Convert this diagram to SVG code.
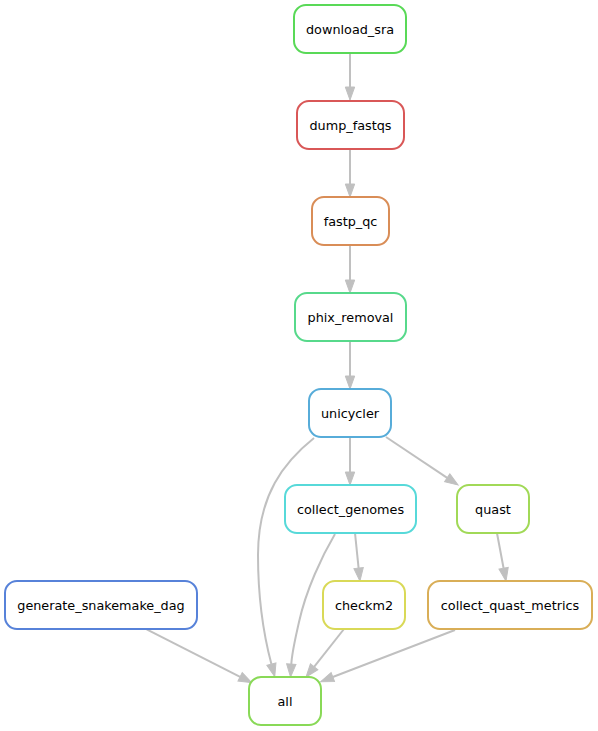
<svg xmlns="http://www.w3.org/2000/svg" width="598" height="731" viewBox="0 0 598 731">
<defs>
<style>
.n rect{fill:#fff;stroke-width:2}
.n text{font-family:"DejaVu Sans",sans-serif;font-size:12.8px;text-anchor:middle;fill:#000}
.e path{fill:none;stroke:#c0c0c0;stroke-width:2;marker-end:url(#ah)}
</style>
<marker id="ah" markerUnits="userSpaceOnUse" markerWidth="16" markerHeight="12" viewBox="0 -6 16 12" refX="0" refY="0" orient="auto" overflow="visible">
<path d="M0,-4.7 L13,0 L0,4.7 Z" fill="#c0c0c0" stroke="#c0c0c0" stroke-width="1"/>
</marker>
</defs>
<rect width="598" height="731" fill="#fff"/>
<g id="edges" class="e">
<path d="M350,53 L350,87"/>
<path d="M350,149 L350,184"/>
<path d="M350,245 L350,280"/>
<path d="M350,341 L350,376"/>
<path d="M350,437 L350,472"/>
<path d="M386,437 L447.2,477.8"/>
<path d="M497,533 L503.6,568.2"/>
<path d="M355,533 L358.6,568.1"/>
<path d="M344,629 L314.1,666.8"/>
<path d="M455,630 L332.8,677"/>
<path d="M146.7,629.3 L240.1,676.8"/>
<path d="M314,438 C284,462 258,495 258,555 C258,600 265,640 271.4,664.1"/>
<path d="M335,534 C322,556 306,590 299,622 C295,640 292,652 291.3,664.1"/>
</g>
<g id="download_sra" class="n"><rect x="294" y="5" width="112" height="48" rx="12" stroke="#59d957"/><text x="350" y="33.5">download_sra</text></g>
<g id="dump_fastqs" class="n"><rect x="297" y="101" width="107" height="48" rx="12" stroke="#d95757"/><text x="350.5" y="129.5">dump_fastqs</text></g>
<g id="fastp_qc" class="n"><rect x="312" y="197" width="77" height="48" rx="12" stroke="#d98d57"/><text x="350.5" y="225.5">fastp_qc</text></g>
<g id="phix_removal" class="n"><rect x="295" y="293" width="111" height="48" rx="12" stroke="#57d98b"/><text x="350.5" y="321.5">phix_removal</text></g>
<g id="unicycler" class="n"><rect x="309" y="389" width="82" height="48" rx="12" stroke="#57acd9"/><text x="350" y="417.5">unicycler</text></g>
<g id="collect_genomes" class="n"><rect x="285" y="485" width="131" height="48" rx="12" stroke="#57d9d9"/><text x="350.5" y="513.5">collect_genomes</text></g>
<g id="quast" class="n"><rect x="457" y="485" width="72" height="48" rx="12" stroke="#a1d957"/><text x="493" y="513.5">quast</text></g>
<g id="generate_snakemake_dag" class="n"><rect x="5" y="581" width="192" height="48" rx="12" stroke="#5782d9"/><text x="101" y="609.5">generate_snakemake_dag</text></g>
<g id="checkm2" class="n"><rect x="323" y="581" width="82" height="48" rx="12" stroke="#d9d957"/><text x="364" y="609.5">checkm2</text></g>
<g id="collect_quast_metrics" class="n"><rect x="428" y="581" width="164" height="48" rx="12" stroke="#d9ae57"/><text x="510" y="609.5">collect_quast_metrics</text></g>
<g id="all" class="n"><rect x="249" y="677" width="72" height="48" rx="12" stroke="#89d957"/><text x="285" y="705.5">all</text></g>
</svg>
